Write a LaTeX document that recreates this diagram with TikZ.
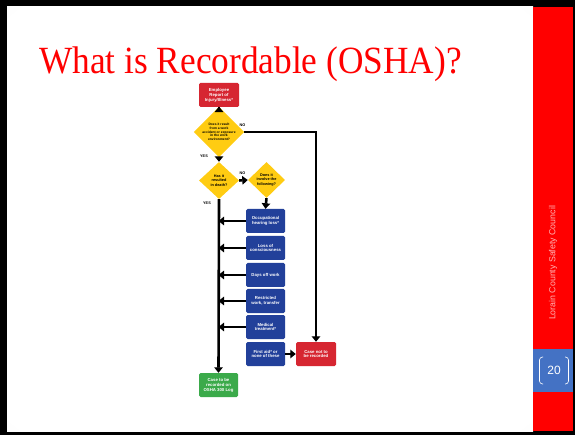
\documentclass[tikz,border=0pt]{standalone}
\usepackage{fontspec}
\setmainfont{Liberation Serif}
\newfontfamily\flowfont{Liberation Sans}
\usetikzlibrary{shapes.geometric,arrows.meta}

\definecolor{slidered}{HTML}{FF0000}
\definecolor{numblue}{HTML}{4472C4}
\definecolor{boxred}{HTML}{D62631}
\definecolor{boxblue}{HTML}{22409A}
\definecolor{boxgreen}{HTML}{3BAA4A}
\definecolor{flowyellow}{HTML}{FFCC12}
\definecolor{sidetext}{HTML}{FFB4B4}

% soft glow: white in the middle, light grey towards the corners
\pgfdeclareradialshading{slideglow}{\pgfpoint{0bp}{0bp}}{%
  color(0bp)=(white); color(34bp)=(white); color(72bp)=(black!17)}

\begin{document}
\begin{tikzpicture}[x=1pt,y=-1pt,
  box/.style={rounded corners=1.5pt, minimum width=39pt, minimum height=24pt,
    inner sep=0.5pt, align=center, text=white,
    font=\flowfont\bfseries\fontsize{4.3}{4.9}\selectfont},
  redbox/.style={box, fill=boxred},
  bluebox/.style={box, fill=boxblue},
  greenbox/.style={box, fill=boxgreen},
  decision/.style={diamond, fill=flowyellow, inner sep=0pt, align=center,
    font=\flowfont\bfseries\fontsize{3.8}{4.3}\selectfont},
  flow/.style={line width=2.6pt, -{Triangle[length=5.5pt,width=8.5pt]}},
  tag/.style={font=\flowfont\bfseries\fontsize{3.8}{4}\selectfont, inner sep=0pt}
]
\useasboundingbox (0,0) rectangle (575,435);

% frame and slide area
\fill[black] (0,0) rectangle (575,435);
\shade[shading=slideglow] (7,7) rectangle (533,431);
\fill[slidered] (533,7) rectangle (573,431);
\fill[numblue] (533,349) rectangle (573,392);

% title
\node[anchor=base west, inner sep=0pt, text=slidered, xscale=0.917,
  font=\fontsize{38.5}{38.5}\selectfont] (title) at (39,73.3) {What is Recordable (OSHA)?};

% side bar text and page number
\node[rotate=90, text=sidetext, font=\flowfont\fontsize{8.8}{8.8}\selectfont]
  (council) at (553,263) {Lorain County Safety Council};
\node[text=white, font=\flowfont\fontsize{12}{12}\selectfont] (page) at (554,370.5) {20};
\draw[white, line width=0.6pt, rounded corners=3pt] (543,357) -- (539.5,357) -- (539.5,384) -- (543,384);
\draw[white, line width=0.6pt, rounded corners=3pt] (565,357) -- (568.5,357) -- (568.5,384) -- (565,384);

% flowchart nodes
\node[redbox, minimum width=40pt] (report) at (219,95) {Employee\\Report of\\Injury/Illness*};
\node[decision, minimum width=40pt, minimum height=40pt,
  font=\flowfont\bfseries\fontsize{3.3}{3.7}\selectfont] (work) at (219,132)
  {Does it result\\from a work\\accident or exposure\\in the work\\environment?};
\node[decision, minimum width=40pt, minimum height=37pt] (death) at (219,180.5)
  {Has it\\resulted\\in death?};
\node[decision, minimum width=37pt, minimum height=36pt] (involve) at (266.5,180)
  {Does it\\involve the\\following?};

\node[bluebox] (hearing) at (265.5,221) {Occupational\\hearing loss*};
\node[bluebox] (conscious) at (265.5,248) {Loss of\\consciousness};
\node[bluebox] (daysoff) at (265.5,275) {Days off work};
\node[bluebox] (restrict) at (265.5,301) {Restricted\\work, transfer};
\node[bluebox] (medical) at (265.5,327) {Medical\\treatment*};
\node[bluebox] (firstaid) at (265.5,354) {First aid* or\\none of these};

\node[redbox, minimum width=40pt] (notrec) at (316,354) {Case not to\\be recorded};
\node[greenbox] (recorded) at (218.5,385) {Case to be\\recorded on\\OSHA 300 Log};

% connectors
\draw[flow] (report.south) -- (work.north);
\draw[flow] (work.south) -- (death.north);
\draw[flow] (death.east) -- (involve.west);
\draw[flow] (involve.south) -- (hearing.north);
\draw[flow] (work.east) -| (notrec.north);
\draw[flow] (death.south) -- (recorded.north);
\foreach \b in {hearing,conscious,daysoff,restrict,medical}
  \draw[flow, shorten >=-0.5pt] (\b.west) -- (\b.west -| death.south);
\draw[flow] (firstaid.east) -- (notrec.west);

% branch labels
\node[tag] (no1) at (242.5,125) {NO};
\node[tag] (yes1) at (204,156) {YES};
\node[tag] (no2) at (242.5,173.5) {NO};
\node[tag] (yes2) at (207,203.5) {YES};
\end{tikzpicture}
\end{document}
